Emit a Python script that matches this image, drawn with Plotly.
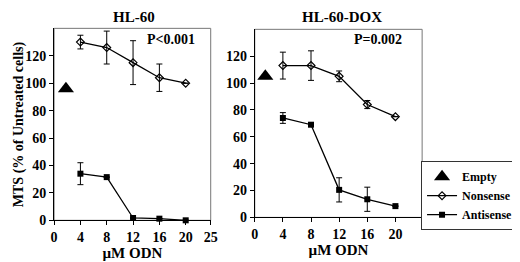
import plotly.graph_objects as go

# ---- data ----
odn = [4, 8, 12, 16, 20]

hl60_nonsense = [130, 126, 115, 104, 100]
hl60_nonsense_err = [5, 12, 16, 10, 0]
hl60_antisense = [34, 31.5, 1.7, 1.2, 0]
hl60_antisense_err = [8, 0, 0, 0, 0]
hl60_empty_x = [1.8]
hl60_empty_y = [96]

dox_nonsense = [113, 113, 105, 84, 75]
dox_nonsense_err = [10, 11, 4, 3, 0]
dox_antisense = [74, 69, 20.5, 13.5, 8.4]
dox_antisense_err = [4, 0, 9, 9, 0]
dox_empty_x = [1.5]
dox_empty_y = [105]

y_ticks = [0, 20, 40, 60, 80, 100, 120]
x_ticks_left = [0, 4, 8, 12, 16, 20, 23.8]
x_ticklabels_left = ["0", "4", "8", "12", "16", "20", "25"]
x_ticks_right = [0, 4, 8, 12, 16, 20]
x_ticklabels_right = ["0", "4", "8", "12", "16", "20"]

FONT = "Times New Roman, Liberation Serif, serif"
fig = go.Figure()

def add_panel(xa, ya, nons, nons_err, anti, anti_err, ex, ey, show):
    fig.add_trace(go.Scatter(
        x=ex, y=ey, mode="markers", name="Empty", showlegend=show,
        marker=dict(symbol="triangle-up", size=14, color="black"),
        xaxis=xa, yaxis=ya, legendrank=1))
    fig.add_trace(go.Scatter(
        x=odn, y=nons, mode="lines+markers", name="Nonsense", showlegend=show,
        line=dict(color="black", width=1.3),
        marker=dict(symbol="diamond-open", size=6, color="black", line=dict(width=1.2)),
        error_y=dict(type="data", array=nons_err, visible=True, color="black",
                     thickness=1, width=3),
        xaxis=xa, yaxis=ya, cliponaxis=False, legendrank=2))
    fig.add_trace(go.Scatter(
        x=odn, y=anti, mode="lines+markers", name="Antisense", showlegend=show,
        line=dict(color="black", width=1.3),
        marker=dict(symbol="square", size=6, color="black"),
        error_y=dict(type="data", array=anti_err, visible=True, color="black",
                     thickness=1, width=3),
        xaxis=xa, yaxis=ya, cliponaxis=False, legendrank=3))

add_panel("x", "y", hl60_nonsense, hl60_nonsense_err, hl60_antisense,
          hl60_antisense_err, hl60_empty_x, hl60_empty_y, True)
add_panel("x2", "y2", dox_nonsense, dox_nonsense_err, dox_antisense,
          dox_antisense_err, dox_empty_x, dox_empty_y, False)

W, H = 520, 262
def px(v):
    return v / W
def py(v):
    return 1 - v / H

tickfont = dict(family=FONT, size=14, color="black", weight="bold")
axis_common = dict(showgrid=False, zeroline=False, showline=True, linecolor="black",
                   linewidth=1, ticks="outside", ticklen=4, tickcolor="black",
                   tickfont=tickfont, fixedrange=True)
title_font = dict(family=FONT, size=15, color="black", weight="bold")
p_font = dict(family=FONT, size=14, color="black", weight="bold")

def ann(text, x, y, font, angle=0):
    return dict(text=text, x=px(x), y=py(y), xref="paper", yref="paper",
                xanchor="center", yanchor="middle", showarrow=False,
                textangle=angle, font=font)

fig.update_layout(
    width=W, height=H,
    margin=dict(l=0, r=0, t=0, b=0),
    paper_bgcolor="white", plot_bgcolor="white",
    showlegend=True,
    font=dict(family=FONT),
    legend=dict(x=px(518), y=py(158), xanchor="right", yanchor="top",
                bordercolor="#333", borderwidth=1, bgcolor="white",
                font=dict(family=FONT, size=12, color="black", weight="bold"),
                tracegroupgap=0, itemwidth=30),
    xaxis=dict(domain=[px(43), px(203)], range=[0, 23.8], tickmode="array",
               tickvals=x_ticks_left, ticktext=x_ticklabels_left, anchor="y",
               title=dict(text="µM ODN", font=title_font, standoff=2),
               **axis_common),
    yaxis=dict(domain=[py(219), py(21)], range=[0, 140], tickmode="array",
               tickvals=y_ticks, anchor="x", **axis_common),
    xaxis2=dict(domain=[px(248), px(419)], range=[0, 23.8], tickmode="array",
                tickvals=x_ticks_right, ticktext=x_ticklabels_right, anchor="y2",
                title=dict(text="µM ODN", font=title_font, standoff=0),
                **axis_common),
    yaxis2=dict(domain=[py(216), py(22)], range=[0, 140], tickmode="array",
                tickvals=y_ticks, anchor="x2", **axis_common),
    shapes=[
        dict(type="rect", xref="x domain", yref="y domain", x0=0, x1=1, y0=0, y1=1,
             line=dict(color="#777", width=1), layer="below"),
        dict(type="rect", xref="x2 domain", yref="y2 domain", x0=0, x1=1, y0=0, y1=1,
             line=dict(color="#777", width=1), layer="below"),
    ],
    annotations=[
        ann("MTS (% of Untreated cells)", 7, 120,
            dict(family=FONT, size=14, color="black", weight="bold"), -90),
        ann("HL-60", 125, 9, title_font),
        ann("HL-60-DOX", 337, 9, title_font),
        ann("P<0.001", 162, 33, p_font),
        ann("P=0.002", 374, 33, p_font),
    ],
)

fig.write_html("out.html")
